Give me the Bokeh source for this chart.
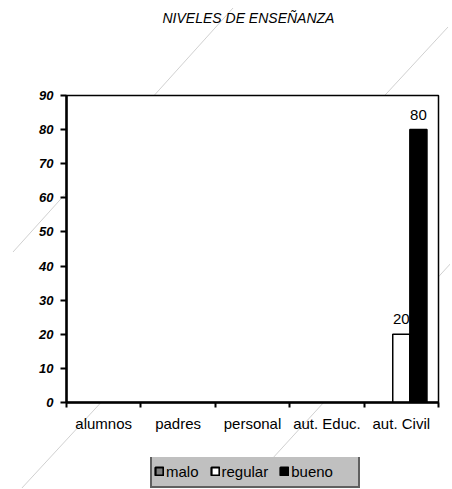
import math, base64
from bokeh.plotting import figure
from bokeh.layouts import column
from bokeh.models import ColumnDataSource, FixedTicker, Legend, LegendItem, Title
from bokeh.core.properties import value
from bokeh.embed import file_html
from bokeh.resources import INLINE

nan = float("nan")

# ---- data ----
categories = ["alumnos", "padres", "personal", "aut. Educ.", "aut. Civil"]
malo = [nan, nan, nan, nan, nan]
regular = [nan, nan, nan, nan, 20]
bueno = [nan, nan, nan, nan, 80]
series_names = ["malo", "regular", "bueno"]
y_ticks = [0, 10, 20, 30, 40, 50, 60, 70, 80, 90]
title_text = "NIVELES DE ENSEÑANZA"

FONT = "Liberation Sans"

p = figure(frame_width=372, frame_height=307, x_range=(0, 5), y_range=(0, 90),
           output_backend="svg", toolbar_location=None, title_location=None,
           min_border_left=66, min_border_right=12, min_border_top=95, min_border_bottom=55)
p.background_fill_color = "white"
p.border_fill_color = None
p.outline_line_color = "black"
p.outline_line_width = 1.5
p.xgrid.grid_line_color = None
p.ygrid.grid_line_color = None

# title (spacer between frame and title, then the title itself)
p.add_layout(Title(text=" ", text_font_size="1px", standoff=67), "above")
p.add_layout(Title(text=title_text, align="left", offset=96, standoff=0,
                   text_font=FONT, text_font_size="14px", text_font_style="italic",
                   text_color="black"), "above")

idx = [i + 0.5 for i in range(len(categories))]
w = 0.23
offsets = {"malo": -w, "regular": 0.0, "bueno": w}
styles = {"malo": ("#808080", "black"), "regular": ("white", "black"), "bueno": ("black", "black")}
vals = {"malo": malo, "regular": regular, "bueno": bueno}

for name in series_names:
    v = vals[name]
    src = ColumnDataSource(dict(
        x=[c + offsets[name] for c in idx],
        top=v,
        lab=["" if (isinstance(t, float) and math.isnan(t)) else f"{t:g}" for t in v],
    ))
    fill, line = styles[name]
    p.vbar(x="x", top="top", width=w, bottom=0, source=src,
           fill_color=fill, line_color=line, line_width=1.5)
    p.text(x="x", y="top", text="lab", source=src, text_align="center",
           text_baseline="alphabetic", y_offset=-15, text_font=value(FONT),
           text_font_size="15px", text_color="black")

# axes
xa = p.xaxis[0]
xa.ticker = FixedTicker(ticks=idx, minor_ticks=list(range(len(categories) + 1)))
xa.major_label_overrides = {t: c for t, c in zip(idx, categories)}
xa.major_tick_line_color = None
xa.major_tick_out = 5
xa.major_tick_in = 0
xa.minor_tick_line_color = "black"
xa.minor_tick_line_width = 2
xa.minor_tick_out = 5
xa.minor_tick_in = 0
xa.axis_line_width = 2.5
xa.axis_line_color = "black"
xa.major_label_text_font = FONT
xa.major_label_text_font_size = "15px"
xa.major_label_text_color = "black"
xa.major_label_standoff = 7

ya = p.yaxis[0]
ya.ticker = FixedTicker(ticks=y_ticks, minor_ticks=[])
ya.major_tick_line_width = 2
ya.major_tick_line_color = "black"
ya.major_tick_out = 6
ya.major_tick_in = 0
ya.minor_tick_line_color = None
ya.axis_line_width = 2.5
ya.axis_line_color = "black"
ya.major_label_text_font = FONT
ya.major_label_text_font_size = "13px"
ya.major_label_text_font_style = "bold italic"
ya.major_label_text_color = "black"
ya.major_label_standoff = 7

# ---- legend strip (separate small figure under the chart) ----
lg = figure(width=450, height=31, x_range=(0, 1), y_range=(0, 1),
            output_backend="svg", toolbar_location=None, title_location=None,
            x_axis_type=None, y_axis_type=None, min_border=0)
lg.background_fill_color = None
lg.border_fill_color = None
lg.outline_line_color = None
lg.xgrid.grid_line_color = None
lg.ygrid.grid_line_color = None

items = []
for name in series_names:
    fill, line = styles[name]
    r = lg.vbar(x=[nan], top=[nan], width=w, fill_color=fill, line_color=line, line_width=2.2)
    items.append(LegendItem(label=name, renderers=[r]))
spacer_r = lg.vbar(x=[nan], top=[nan], width=w, fill_alpha=0, line_alpha=0)
items.append(LegendItem(label="", renderers=[spacer_r]))

legend = Legend(items=items, orientation="horizontal", location=(84, 0),
                background_fill_color="#c0c0c0", background_fill_alpha=1,
                border_line_color="black", border_line_width=2,
                padding=2, margin=0, spacing=11, label_standoff=2, label_width=0,
                glyph_width=10, glyph_height=10, label_height=26,
                label_text_font=FONT, label_text_font_size="15px", label_text_color="black")
lg.add_layout(legend)

# decorative faint diagonal lines behind the whole chart (page background)
deco = [(13, 252, 233, 8), (21, 489, 448, 27), (240, 494, 452, 262)]
svg = "<svg xmlns='http://www.w3.org/2000/svg' width='460' height='500'>" + "".join(
    f"<line x1='{a}' y1='{b}' x2='{c}' y2='{d}' stroke='#c4c4c4' stroke-width='0.8'/>" for a, b, c, d in deco
) + "</svg>"
b64 = base64.b64encode(svg.encode()).decode()

layout = column(p, lg, spacing=0)
layout.styles = {"background-image": f"url(data:image/svg+xml;base64,{b64})",
                 "background-repeat": "no-repeat", "background-color": "white"}

open("out.html", "w").write(file_html(layout, INLINE))
